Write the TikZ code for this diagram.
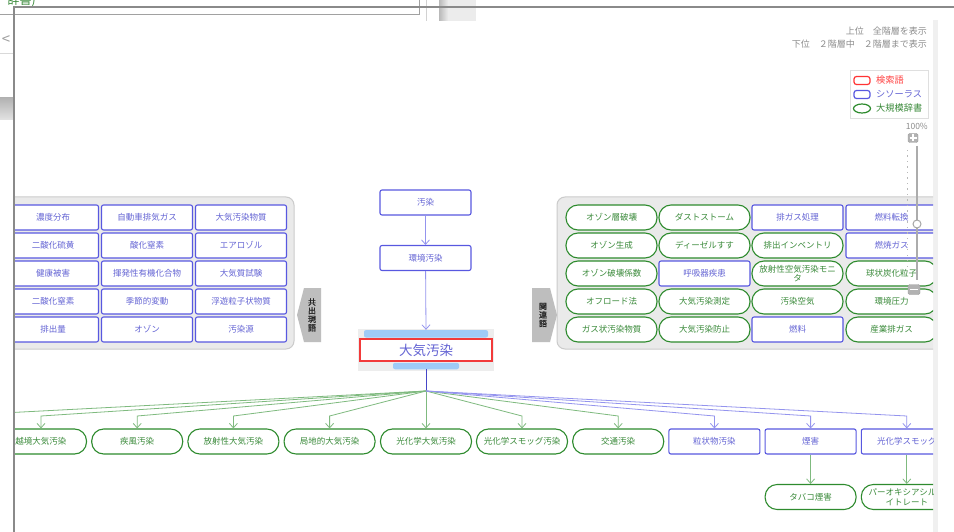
\documentclass[tikz,border=0pt]{standalone}
\usepackage{fontspec}
\setmainfont{Noto Sans CJK JP}
\usetikzlibrary{arrows.meta,calc,shapes.geometric}
\definecolor{bB}{HTML}{5858E0}
\definecolor{bT}{HTML}{6464D4}
\definecolor{gB}{HTML}{2E8B2E}
\definecolor{gT}{HTML}{3A8A3A}
\definecolor{gE}{HTML}{7FBA7F}
\definecolor{bE}{HTML}{9494EE}
\definecolor{dE}{HTML}{4646C8}
\definecolor{panelF}{HTML}{EAEAEA}
\definecolor{panelD}{HTML}{CBCBCB}
\definecolor{tabF}{HTML}{BEBEBE}
\definecolor{lblue}{HTML}{9FCBF7}
\definecolor{redB}{HTML}{F23A3A}
\definecolor{uiG}{HTML}{8A8A8A}
\definecolor{txtG}{HTML}{8C8C8C}
\tikzset{
  base/.style={minimum width=91pt, minimum height=25pt, inner sep=1pt,
    font=\fontsize{8.5}{9.5}\selectfont, fill=white, line width=1.1pt, align=center},
  bn/.style={base, draw=bB, text=bT, rounded corners=2pt},
  gn/.style={base, draw=gB, text=gT, rounded corners=12pt},
  tip/.style={-{Straight Barb[length=4.5pt,width=8pt]}},
  gedge/.style={draw=gE, line width=0.8pt, tip},
  bedge/.style={draw=bE, line width=0.8pt, tip},
  panel/.style={fill=panelF, draw=panelD, line width=1pt, rounded corners=8pt},
  tabtxt/.style={font=\fontsize{8}{8.6}\selectfont\addfontfeature{FakeBold=1.2}, text=black!85, align=center, inner sep=0pt},
  uitxt/.style={font=\fontsize{9}{10}\selectfont, text=txtG, inner sep=0pt},
  lgtxt/.style={font=\fontsize{9.2}{10}\selectfont, inner sep=0pt, anchor=west}
}
\begin{document}
\begin{tikzpicture}[x=1pt,y=-1pt]
\useasboundingbox (0,0) rectangle (954,532);
\fill[white] (0,0) rectangle (954,532);

% ---- browser chrome fragments ----
\node[anchor=base east, text=gT, font=\fontsize{12}{12}\selectfont, inner sep=0pt] (cut) at (36,5) {辞書)};
\draw[uiG!80, line width=1pt] (0,14.5) -- (419,14.5) -- (419,0);
\draw[gray!35, line width=0.8pt] (426,0) -- (426,21);
\shade[left color=gray!55, right color=gray!15] (439,0) rectangle (448,21);
\fill[gray!15] (448,0) rectangle (476,21);
\node[text=gray!75, font=\fontsize{15}{15}\selectfont, inner sep=0pt] (lt) at (6,40) {<};
\draw[gray!30, line width=0.8pt] (0,53) -- (14,53);
\shade[top color=gray!60, bottom color=gray!22] (0,98) rectangle (13,120);
\fill[gray!12] (933,20) rectangle (938,532);

% ---- diagram area ----
\begin{scope}
\clip (15,8) rectangle (933,532);

% left panel
\draw[panel] (-30,197) rectangle (294,349);
\node[bn] (L11) at (53,217.5) {濃度分布};
\node[bn] (L12) at (147,217.5) {自動車排気ガス};
\node[bn] (L13) at (241,217.5) {大気汚染物質};
\node[bn] (L21) at (53,245.5) {二酸化硫黄};
\node[bn] (L22) at (147,245.5) {酸化窒素};
\node[bn] (L23) at (241,245.5) {エアロゾル};
\node[bn] (L31) at (53,273.5) {健康被害};
\node[bn] (L32) at (147,273.5) {揮発性有機化合物};
\node[bn] (L33) at (241,273.5) {大気質試験};
\node[bn] (L41) at (53,301.5) {二酸化窒素};
\node[bn] (L42) at (147,301.5) {季節的変動};
\node[bn] (L43) at (241,301.5) {浮遊粒子状物質};
\node[bn] (L51) at (53,329.5) {排出量};
\node[bn] (L52) at (147,329.5) {オゾン};
\node[bn] (L53) at (241,329.5) {汚染源};
\fill[tabF] (321,288) -- (304,288) -- (297,315) -- (304,342) -- (321,342) -- cycle;
\node[tabtxt] (tabL) at (312,315) {共\\出\\現\\語};

% right panel
\draw[panel] (557,197) rectangle (980,349);
\fill[tabF] (532,288) -- (550,288) -- (557,315) -- (550,342) -- (532,342) -- cycle;
\node[tabtxt] (tabR) at (543,315) {関\\連\\語};
\node[gn] (R11) at (611.5,217.5) {オゾン層破壊};
\node[gn] (R12) at (704.5,217.5) {ダストストーム};
\node[bn] (R13) at (797.5,217.5) {排ガス処理};
\node[bn] (R14) at (891.5,217.5) {燃料転換};
\node[gn] (R21) at (611.5,245.5) {オゾン生成};
\node[gn] (R22) at (704.5,245.5) {ディーゼルすす};
\node[gn] (R23) at (797.5,245.5) {排出インベントリ};
\node[bn] (R24) at (891.5,245.5) {燃焼ガス};
\node[gn] (R31) at (611.5,273.5) {オゾン破壊係数};
\node[bn] (R32) at (704.5,273.5) {呼吸器疾患};
\node[gn] (R33) at (797.5,273.5) {放射性空気汚染モニ\\タ};
\node[gn] (R34) at (891.5,273.5) {球状炭化粒子};
\node[gn] (R41) at (611.5,301.5) {オフロード法};
\node[gn] (R42) at (704.5,301.5) {大気汚染測定};
\node[gn] (R43) at (797.5,301.5) {汚染空気};
\node[gn] (R44) at (891.5,301.5) {環境圧力};
\node[gn] (R51) at (611.5,329.5) {ガス状汚染物質};
\node[gn] (R52) at (704.5,329.5) {大気汚染防止};
\node[bn] (R53) at (797.5,329.5) {燃料};
\node[gn] (R54) at (891.5,329.5) {産業排ガス};

% center chain
\node[bn] (osen) at (425.5,202.5) {汚染};
\node[bn] (kankyo) at (425.5,258) {環境汚染};
\fill[gray!14] (358,329) rectangle (494,371);
\node[fill=lblue, rounded corners=2pt, minimum width=124pt, minimum height=7.5pt, inner sep=0pt] (tbar) at (426,333.8) {};
\node[fill=lblue, rounded corners=2pt, minimum width=66pt, minimum height=6.5pt, inner sep=0pt] (bbar) at (426,366) {};
\node[draw=redB, line width=2.2pt, fill=white, minimum width=132pt, minimum height=21.5pt, inner sep=0pt,
      text=bT, font=\fontsize{13.5}{14}\selectfont] (main) at (426,350) {大気汚染};
\draw[bedge] (osen) -- (kankyo);
\draw[bedge] (kankyo) -- (tbar.north);
\coordinate (hub) at (426,391);
\coordinate (kink) at (0,416);
\draw[dE, line width=0.9pt] (bbar.south) -- (hub);

% bottom row
\node[gn] (B1) at (41,441.5) {越境大気汚染};
\node[gn] (B2) at (137.2,441.5) {疾風汚染};
\node[gn] (B3) at (233.4,441.5) {放射性大気汚染};
\node[gn] (B4) at (329.6,441.5) {局地的大気汚染};
\node[gn] (B5) at (426,441.5) {光化学大気汚染};
\node[gn] (B6) at (522,441.5) {光化学スモッグ汚染};
\node[gn] (B7) at (618.2,441.5) {交通汚染};
\node[bn] (B8) at (714.4,441.5) {粒状物汚染};
\node[bn] (B9) at (810.6,441.5) {煙害};
\node[bn] (B10) at (906.8,441.5) {光化学スモッグ};
\node[gn] (C1) at (810.6,497) {タバコ煙害};
\node[gn] (C2) at (906.8,497) {パーオキシアシルナ\\イトレート};

\coordinate (offL) at (-55,416);
\draw[draw=gE, line width=0.8pt] (hub) -- (offL);
\foreach \n in {B1,B2,B3,B4,B6,B7}{
  \draw[gedge] (hub) -- (\n.north |- kink) -- (\n.north);
}
\draw[gedge] (hub) -- (B5.north);
\foreach \n in {B8,B9,B10}{
  \draw[bedge] (hub) -- (\n.north |- kink) -- (\n.north);
}
\draw[gedge] (B9) -- (C1);
\draw[gedge] (B10) -- (C2);
\end{scope}

% frame lines
\draw[uiG, line width=2pt] (14,7) -- (954,7);
\draw[uiG, line width=2pt] (14,6) -- (14,532);

% top-right info
\node[uitxt, anchor=east] (info1) at (927,31) {上位　全階層を表示};
\node[uitxt, anchor=east] (info2) at (927,44.5) {下位　２階層中　２階層まで表示};

% legend
\node[draw=gray!25, fill=white, line width=0.8pt, minimum width=78pt, minimum height=48pt, inner sep=0pt, anchor=north west] (legend) at (850,70) {};
\node[draw=red!80, line width=1.2pt, rounded corners=2.5pt, minimum width=16pt, minimum height=8pt, inner sep=0pt] (lgR) at (862,80.5) {};
\node[draw=bB, line width=1.2pt, rounded corners=2.5pt, minimum width=16pt, minimum height=8pt, inner sep=0pt] (lgB) at (862,94.5) {};
\node[ellipse, draw=gB, line width=1.2pt, minimum width=17pt, minimum height=9pt, inner sep=0pt] (lgG) at (862,108.5) {};
\node[lgtxt, text=red!75] (lgRt) at (876,80.5) {検索語};
\node[lgtxt, text=bT] (lgBt) at (876,94.5) {シソーラス};
\node[lgtxt, text=gT] (lgGt) at (876,108.5) {大規模辞書};

% zoom slider
\node[uitxt, anchor=east, font=\fontsize{8.5}{9}\selectfont] (pct) at (928,126) {100\%};
\foreach \yy in {150,155.5,...,276}{
  \fill[gray!55] (906.5,\yy) rectangle (907.7,\yy+1.2);
}
\draw[gray!65, line width=2.4pt] (917,146) -- (917,280);
\node[fill=gray!60, draw=gray!75, rounded corners=1.5pt, minimum width=10pt, minimum height=9pt, inner sep=0pt] (plusb) at (913,138) {};
\draw[white, line width=1.3pt] (909.5,138) -- (916.5,138) (913,134.5) -- (913,141.5);
\node[circle, draw=gray!70, fill=white, line width=1pt, minimum size=8pt, inner sep=0pt] (knob) at (917,224) {};
\node[fill=gray!60, draw=gray!75, rounded corners=1.5pt, minimum width=12pt, minimum height=10pt, inner sep=0pt] (minusb) at (914,289.5) {};
\draw[white, line width=1.3pt] (910,289.5) -- (918,289.5);
\end{tikzpicture}
\end{document}
